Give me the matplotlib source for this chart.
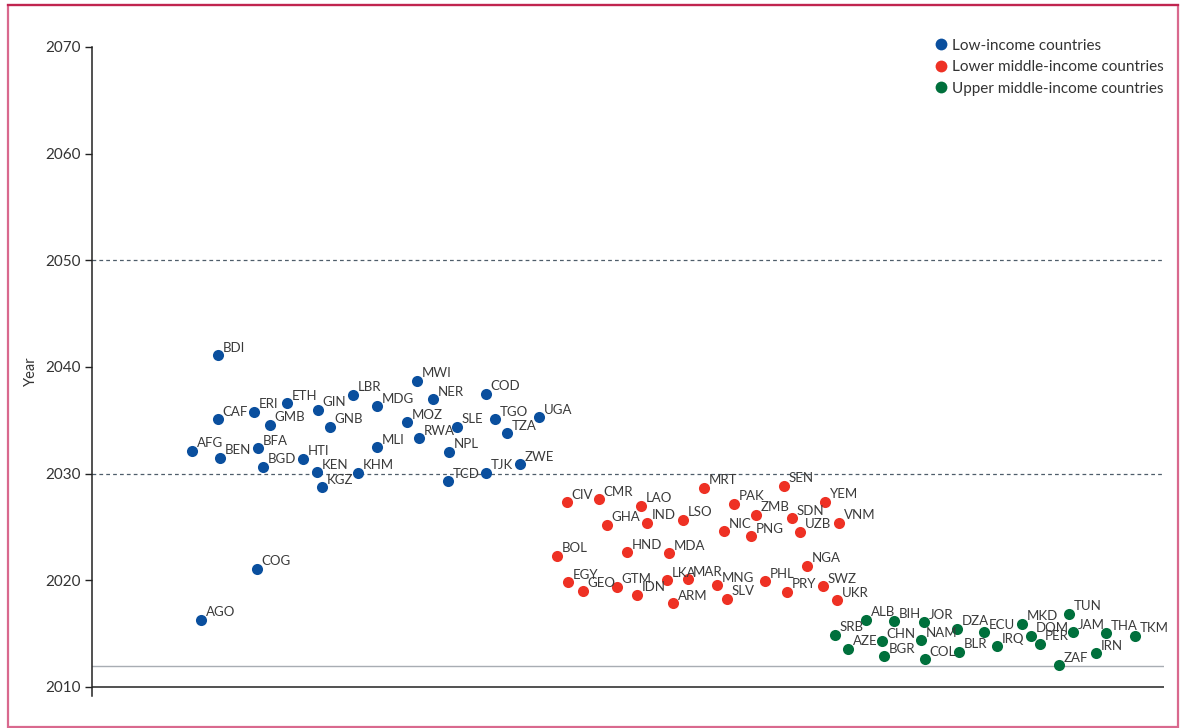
import matplotlib.pyplot as plt
from matplotlib.patches import Rectangle
from matplotlib.lines import Line2D

plt.rcParams['font.family'] = ['Lato', 'DejaVu Sans']

# horizontal placement is arbitrary spread (0..1071), y is the year
low_codes = ['BDI', 'CAF', 'ERI', 'ETH', 'GIN', 'LBR', 'GMB', 'GNB', 'AFG', 'BEN',
             'BFA', 'BGD', 'HTI', 'KEN', 'KGZ', 'KHM', 'MWI', 'MDG', 'NER', 'COD',
             'MOZ', 'RWA', 'SLE', 'TGO', 'TZA', 'UGA', 'MLI', 'NPL', 'TCD', 'TJK',
             'ZWE', 'COG', 'AGO']
low_x = [126, 126, 162, 195, 226, 261, 178, 238, 100, 128,
         166, 171, 211, 225, 230, 266, 325, 285, 341, 394,
         315, 327, 365, 403, 415, 447, 285, 357, 356, 394,
         428, 165, 109]
low_year = [2041.1, 2035.1, 2035.8, 2036.6, 2036.0, 2037.4, 2034.6, 2034.4, 2032.15, 2031.5,
            2032.4, 2030.65, 2031.4, 2030.15, 2028.75, 2030.1, 2038.7, 2036.3, 2037.0, 2037.5,
            2034.8, 2033.3, 2034.4, 2035.1, 2033.8, 2035.3, 2032.5, 2032.05, 2029.3, 2030.1,
            2030.9, 2021.1, 2016.3]

lmic_codes = ['CIV', 'CMR', 'LAO', 'GHA', 'IND', 'LSO', 'MRT', 'BOL', 'HND', 'MDA',
              'EGY', 'GEO', 'GTM', 'IDN', 'LKA', 'MAR', 'ARM', 'MNG', 'SLV', 'NIC',
              'SEN', 'PAK', 'YEM', 'ZMB', 'SDN', 'VNM', 'PNG', 'UZB', 'NGA', 'PHL',
              'PRY', 'SWZ', 'UKR']
lmic_x = [475, 507, 549, 515, 555, 591, 612, 465, 535, 577,
          476, 491, 525, 545, 575, 596, 581, 625, 635, 632,
          692, 642, 733, 664, 700, 747, 659, 708, 715, 673,
          695, 731, 745]
lmic_year = [2027.3, 2027.6, 2027.0, 2025.2, 2025.4, 2025.7, 2028.7, 2022.3, 2022.65, 2022.55,
             2019.8, 2019.0, 2019.4, 2018.65, 2020.0, 2020.1, 2017.85, 2019.55, 2018.25, 2024.6,
             2028.85, 2027.2, 2027.35, 2026.15, 2025.8, 2025.4, 2024.15, 2024.55, 2021.35, 2019.9,
             2018.95, 2019.45, 2018.15]

umic_codes = ['SRB', 'ALB', 'BIH', 'JOR', 'DZA', 'ECU', 'AZE', 'CHN', 'NAM', 'BGR',
              'COL', 'BLR', 'MKD', 'IRQ', 'DOM', 'PER', 'TUN', 'JAM', 'THA', 'TKM',
              'IRN', 'ZAF']
umic_x = [743, 774, 802, 832, 865, 892, 756, 790, 829, 792,
          833, 867, 930, 905, 939, 948, 977, 981, 1014, 1043,
          1004, 967]
umic_year = [2014.9, 2016.3, 2016.15, 2016.05, 2015.45, 2015.15, 2013.6, 2014.3, 2014.4, 2012.9,
             2012.6, 2013.3, 2015.95, 2013.8, 2014.8, 2014.05, 2016.85, 2015.15, 2015.05, 2014.8,
             2013.15, 2012.05]

groups = ['Low-income countries', 'Lower middle-income countries', 'Upper middle-income countries']
colors = ['#0a4f9e', '#ee3124', '#00703c']

fig = plt.figure(figsize=(11.83, 7.28), dpi=100)
ax = fig.add_axes([92 / 1183, (728 - 695.5) / 728, (1164 - 92) / 1183, (695.5 - 47) / 728])

series = [(low_codes, low_x, low_year), (lmic_codes, lmic_x, lmic_year), (umic_codes, umic_x, umic_year)]
for (codes, xs, ys), col in zip(series, colors):
    ax.plot(xs, ys, 'o', color=col, markersize=8, markeredgewidth=0, zorder=3)
    for c, x, y in zip(codes, xs, ys):
        ax.annotate(c, (x, y), xytext=(3.5, 2.5), textcoords='offset points',
                    ha='left', va='baseline', fontsize=9.5, color='#3a3a3a', zorder=4)

# reference lines
for yr in [2030, 2050]:
    ax.axhline(yr, color='#4e5d6a', linestyle=(0, (3, 2.5)), linewidth=0.9, zorder=1)
ax.axhline(2012, color='#a8adb3', linewidth=1.0, zorder=1)
ax.axhline(2010, color='#222222', linewidth=1.1, zorder=2)

ax.set_xlim(0, 1072)
ax.set_ylim(2009.2, 2070)
ax.set_yticks(range(2010, 2071, 10))
ax.set_xticks([])
ax.tick_params(axis='y', direction='out', length=5, width=1, color='#222222',
               labelsize=11, labelcolor='#333333', pad=3)
for s in ['top', 'right', 'bottom']:
    ax.spines[s].set_visible(False)
ax.spines['left'].set_color('#222222')
ax.spines['left'].set_linewidth(1.1)
ax.set_ylabel('Year', fontsize=10.5, color='#333333', labelpad=5)

handles = [Line2D([], [], marker='o', linestyle='', color=c, markersize=8.5, markeredgewidth=0)
           for c in colors]
ax.legend(handles, groups, loc='upper right', bbox_to_anchor=(1.0 + 6 / 1072, 1.022), frameon=False,
          fontsize=11, handletextpad=0.0, handlelength=1.5, labelspacing=0.48, borderaxespad=0,
          labelcolor='#333333')

# page frame
fig.patches.append(Rectangle((8 / 1183, 1 / 728), 1170 / 1183, 722 / 728, transform=fig.transFigure,
                             fill=False, edgecolor='#d9698e', linewidth=1.6))
fig.lines.append(Line2D([8 / 1183, 1178 / 1183], [723 / 728, 723 / 728], transform=fig.transFigure,
                        color='#c0254f', linewidth=1.6))

fig.savefig('out.png', dpi=100)
